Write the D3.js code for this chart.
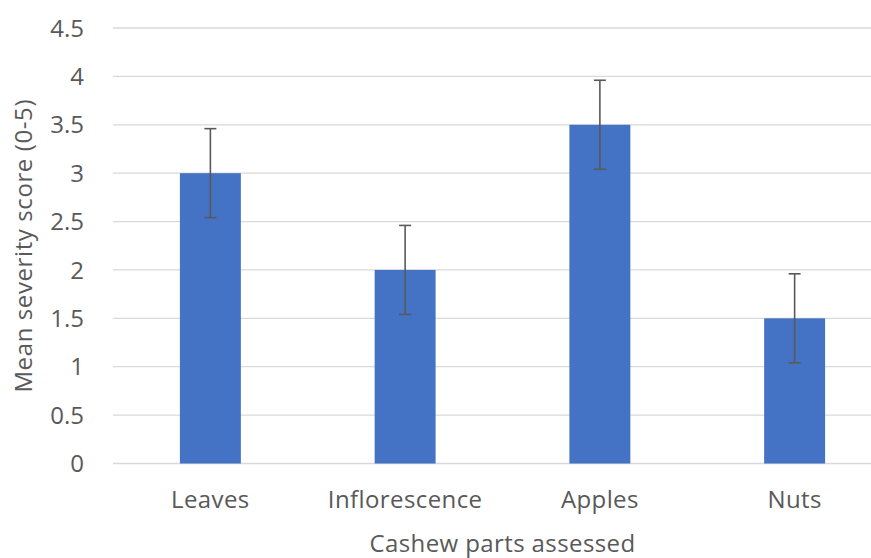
<!DOCTYPE html>
<html>
<head>
<meta charset="utf-8">
<script src="https://cdn.jsdelivr.net/npm/d3@7"></script>
<style>
body { margin: 0; background: #fff; }
svg text { font-family: "Open Sans", "Noto Sans", sans-serif; fill: #595959; font-size: 24px; }
</style>
</head>
<body>
<svg id="myGraph" width="871" height="558"></svg>
<script>
var categories = ["Leaves", "Inflorescence", "Apples", "Nuts"];
var means = [3, 2, 3.5, 1.5];      // mean severity
var errors = [0.46, 0.46, 0.46, 0.46]; // error bar half-length
var yTicks = [0, 0.5, 1, 1.5, 2, 2.5, 3, 3.5, 4, 4.5];

var svg = d3.select("#myGraph");
var plotLeft = 113, plotRight = 892, plotTop = 28, plotBottom = 463.5;

var x = d3.scaleBand().domain(categories).range([plotLeft, plotRight]).padding(0);
var y = d3.scaleLinear().domain([0, 4.5]).range([plotBottom, plotTop]);
var barW = x.bandwidth() * 0.313;

// gridlines
svg.append("g").selectAll("line")
  .data(yTicks)
  .enter().append("line")
  .attr("x1", plotLeft).attr("x2", plotRight)
  .attr("y1", function(d){ return y(d); })
  .attr("y2", function(d){ return y(d); })
  .attr("stroke", "#d9d9d9")
  .attr("stroke-width", 1.3);

// y tick labels
svg.append("g").selectAll("text")
  .data(yTicks)
  .enter().append("text")
  .attr("x", 84)
  .attr("y", function(d){ return y(d); })
  .attr("dy", "0.36em")
  .attr("text-anchor", "end")
  .text(function(d){ return d; });

// bars
svg.append("g").selectAll("rect")
  .data(means)
  .enter().append("rect")
  .attr("x", function(d,i){ return x(categories[i]) + x.bandwidth()/2 - barW/2; })
  .attr("y", function(d){ return y(d); })
  .attr("width", barW)
  .attr("height", function(d){ return y(0) - y(d); })
  .attr("fill", "#4472c4");

// error bars
var eb = svg.append("g").attr("stroke", "#595959").attr("stroke-width", 1.6);
means.forEach(function(m, i){
  var cx = x(categories[i]) + x.bandwidth()/2;
  var hi = y(m + errors[i]), lo = y(m - errors[i]);
  eb.append("line").attr("x1", cx).attr("x2", cx).attr("y1", hi).attr("y2", lo);
  eb.append("line").attr("x1", cx - 6).attr("x2", cx + 6).attr("y1", hi).attr("y2", hi);
  eb.append("line").attr("x1", cx - 6).attr("x2", cx + 6).attr("y1", lo).attr("y2", lo);
});

// x labels
svg.append("g").selectAll("text")
  .data(categories)
  .enter().append("text")
  .attr("x", function(d){ return x(d) + x.bandwidth()/2; })
  .attr("y", 508)
  .attr("text-anchor", "middle")
  .style("letter-spacing", "0.4px")
  .text(function(d){ return d; });

// axis titles
svg.append("text")
  .attr("x", (plotLeft + plotRight)/2)
  .attr("y", 552)
  .attr("text-anchor", "middle")
  .style("letter-spacing", "0.4px")
  .text("Cashew parts assessed");

svg.append("text")
  .attr("transform", "translate(32," + (plotTop + plotBottom)/2 + ") rotate(-90)")
  .attr("text-anchor", "middle")
  .style("letter-spacing", "0.6px")
  .text("Mean severity score (0-5)");
</script>
</body>
</html>
